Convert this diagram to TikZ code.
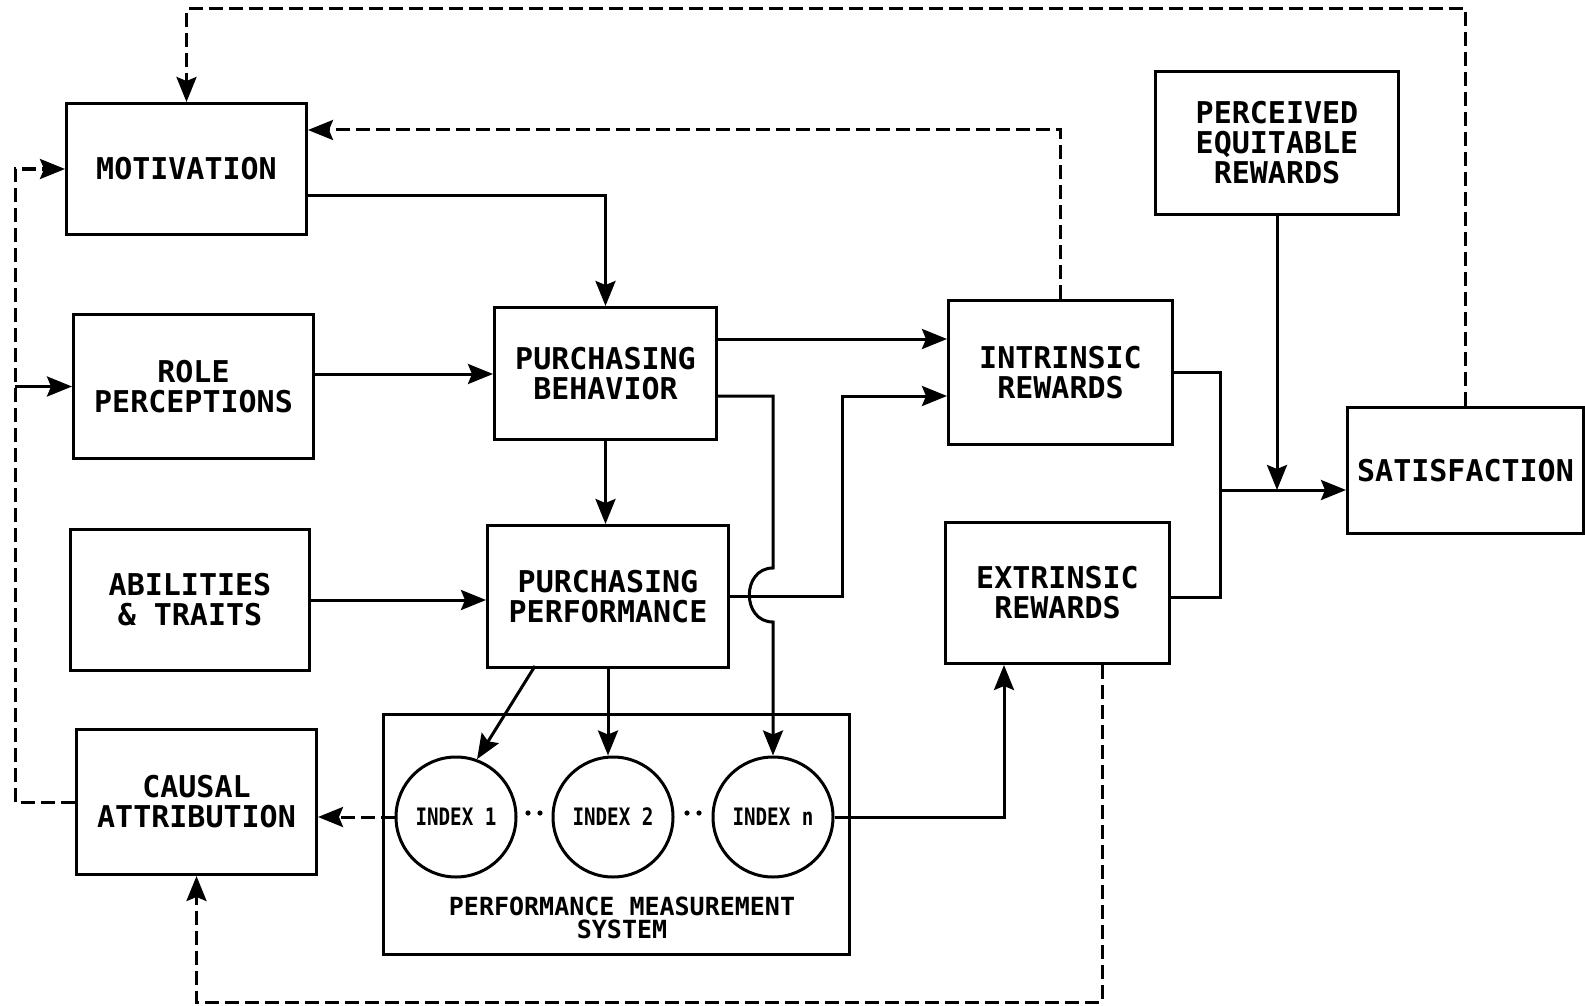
\documentclass[tikz,border=0pt]{standalone}
\usepackage{fontspec}
\usepackage{graphicx}
\newfontfamily\plotfont{DejaVu Sans Mono}
\usetikzlibrary{arrows.meta}
\begin{document}
\begin{tikzpicture}[x=1pt,y=-1pt,
  line width=3pt,
  box/.style={draw, rectangle, inner sep=0pt, anchor=north west, align=center,
    font=\plotfont\bfseries\fontsize{30pt}{30pt}\selectfont},
  idx/.style={draw, circle, minimum size=120pt, inner sep=0pt,
    font=\plotfont\bfseries\fontsize{24pt}{24pt}\selectfont},
  arr/.style={-{Stealth[length=25pt,width=20pt,inset=4pt]}},
  dsh/.style={dash pattern=on 14pt off 6pt}
]
\useasboundingbox (0,0) rectangle (1585,1006);

% boxes
\node[box, minimum width=240pt, minimum height=131pt] (mot) at (65,102) {MOTIVATION};
\node[box, minimum width=240pt, minimum height=144pt] (role) at (72,313) {ROLE\\PERCEPTIONS};
\node[box, minimum width=239pt, minimum height=141pt] (abil) at (69,528) {ABILITIES\\\& TRAITS};
\node[box, minimum width=240pt, minimum height=145pt] (caus) at (75,728) {CAUSAL\\ATTRIBUTION};
\node[box, minimum width=222pt, minimum height=132pt] (pb) at (493,306) {PURCHASING\\BEHAVIOR};
\node[box, minimum width=241pt, minimum height=142pt] (pp) at (486,524) {PURCHASING\\PERFORMANCE};
\node[box, minimum width=224pt, minimum height=144pt] (intr) at (947,299) {INTRINSIC\\REWARDS};
\node[box, minimum width=224pt, minimum height=141pt] (extr) at (944,521) {EXTRINSIC\\REWARDS};
\node[box, minimum width=243pt, minimum height=143pt] (perc) at (1154,70) {PERCEIVED\\EQUITABLE\\REWARDS};
\node[box, minimum width=236pt, minimum height=126pt] (sat) at (1346,406) {SATISFACTION};

% performance measurement system
\node[draw, rectangle, minimum width=466pt, minimum height=240pt, anchor=north west, inner sep=0pt] (pms) at (382,713) {};
\node[idx] (idx1) at (456,817) {\scalebox{0.8}[1]{INDEX 1}};
\node[idx] (idx2) at (613,817) {\scalebox{0.8}[1]{INDEX 2}};
\node[idx] (idxn) at (773,817) {\scalebox{0.8}[1]{INDEX n}};
\node[align=center, inner sep=0pt, font=\plotfont\bfseries\fontsize{25pt}{23pt}\selectfont] (pmslabel) at (622,918) {PERFORMANCE MEASUREMENT\\SYSTEM};
\fill (528,813) circle (2.6pt) (540,813) circle (2.6pt);
\fill (687,813) circle (2.6pt) (699,813) circle (2.6pt);

% reference positions for bends
\coordinate (ytop) at (0,9);
\coordinate (y130) at (0,130);
\coordinate (y195) at (0,195);
\coordinate (y339) at (0,339);
\coordinate (y374) at (0,374);
\coordinate (y396) at (0,396);
\coordinate (yh1) at (0,568);
\coordinate (yh2) at (0,622);
\coordinate (ybot) at (0,1002);
\coordinate (c842) at (842,396);
\coordinate (ppd) at (535,666);
\coordinate (x1004) at (1004,0);
\coordinate (x1102) at (1102,0);
\coordinate (xl) at (15,0);
\coordinate (xbus) at (1220,0);
\coordinate (b2) at (1220,597);
\coordinate (bm) at (1220,490);

% feedback loops (dashed)
\draw[dsh,arr] (sat.north) |- (ytop -| mot.north) -- (mot.north);
\draw[dsh,arr] (intr.north) |- (mot.east |- y130);
\draw[dsh,arr] (extr.south -| x1102) |- (ybot -| caus.south) -- (caus.south);
\draw[dsh,arr] (caus.west) -| (xl |- mot.west) -- (mot.west);
\draw[dsh,arr] (idx1.west) -- (caus.east |- idx1.west);
\draw[arr] (xl |- role.west) -- (role.west);

% main flow
\draw[arr] (mot.east |- y195) -| (pb.north);
\draw[arr] (role.east |- y374) -- (pb.west |- y374);
\draw[arr] (abil.east) -- (pp.west |- abil.east);
\draw[arr] (pb.south) -- (pb.south |- pp.north);
\draw[arr] (pb.east |- y339) -- (intr.west |- y339);
\draw[arr] (pb.east |- y396) -| (idxn.north |- yh1)
  to[out=180,in=180,looseness=1.5] (idxn.north |- yh2) -- (idxn.north);
\draw[arr] (pp.east) -| (c842) -- (intr.west |- c842);
\draw[arr] (ppd) -- (idx1.70);
\draw[arr] (pp.south) -- (pp.south |- idx2.north);
\draw[arr] (idxn.east) -| (x1004 |- extr.south);

% rewards to satisfaction
\draw (intr.east) -| (xbus |- b2) -- (extr.east |- b2);
\draw[arr] (bm) -- (sat.west |- bm);
\draw[arr] (perc.south) -- (perc.south |- bm);
\end{tikzpicture}
\end{document}
